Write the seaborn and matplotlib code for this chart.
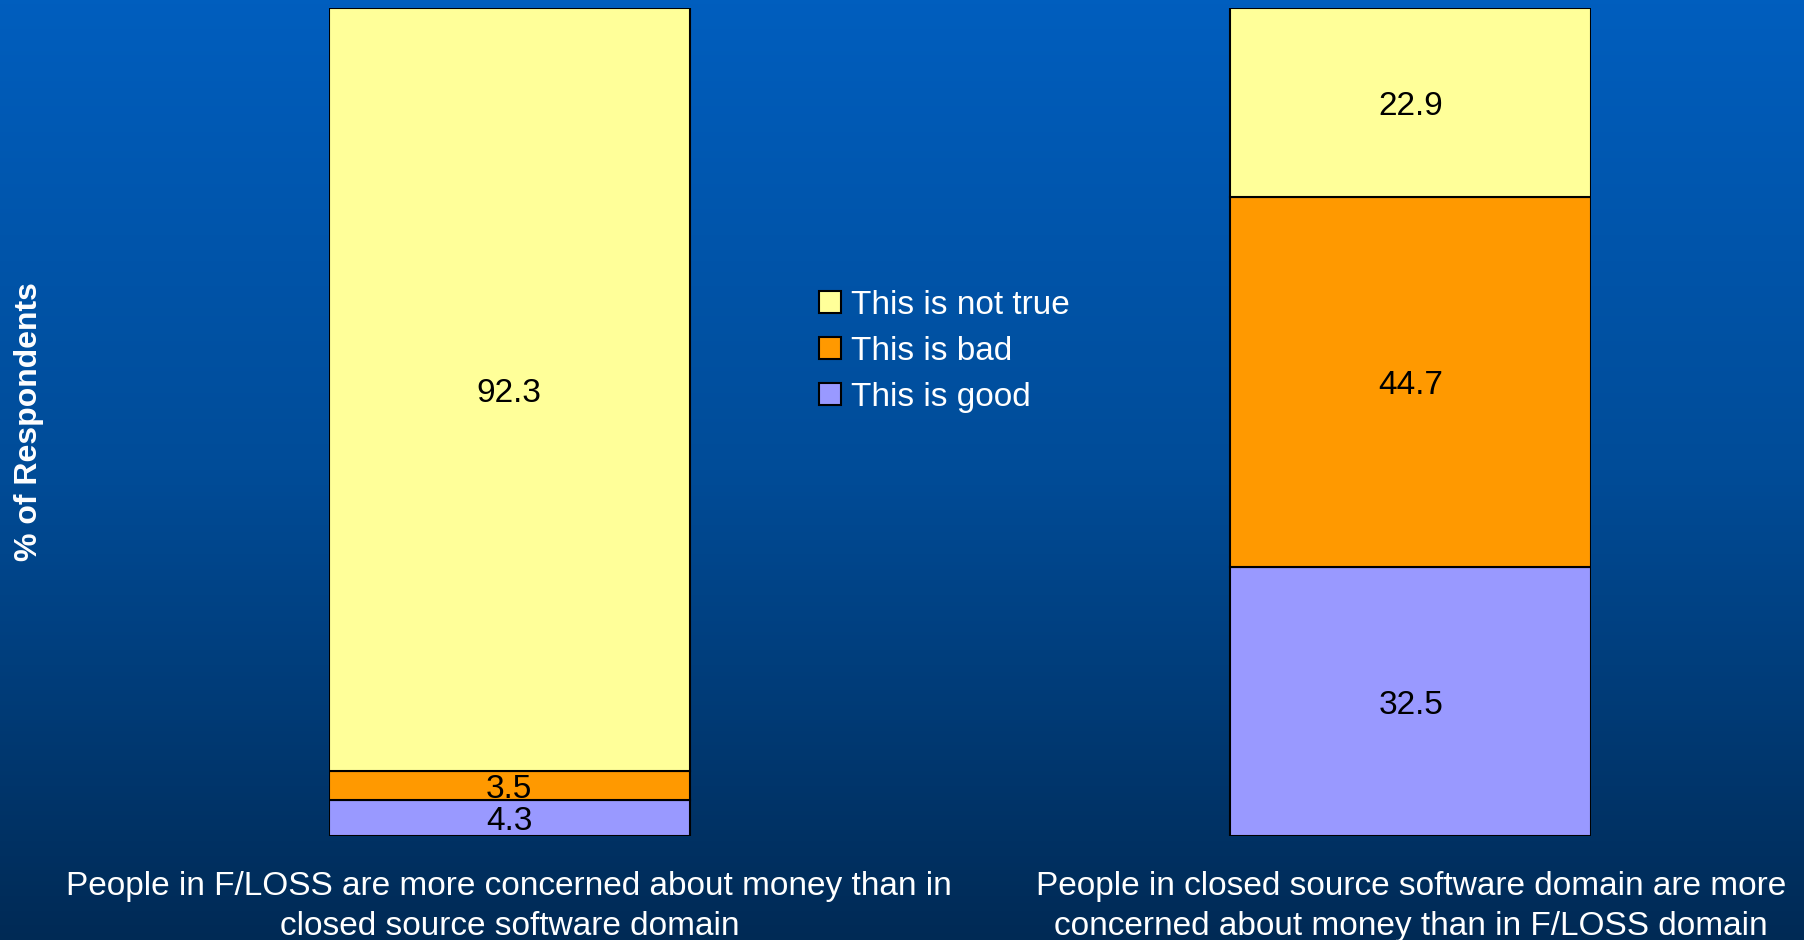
import numpy as np
import pandas as pd
import matplotlib
matplotlib.use("Agg")
import matplotlib.pyplot as plt
import seaborn as sns
from matplotlib.colors import LinearSegmentedColormap
from matplotlib.patches import Patch

# data
groups = ["People in F/LOSS are more concerned about money than in\nclosed source software domain",
          "People in closed source software domain are more\nconcerned about money than in F/LOSS domain"]
responses = ["This is good", "This is bad", "This is not true"]
good = [4.3, 32.5]
bad = [3.5, 44.7]
not_true = [92.3, 22.9]
colors = ["#9999FF", "#FF9900", "#FFFF99"]

sns.set_style("white")
plt.rcParams["font.family"] = ["Liberation Sans", "DejaVu Sans"]

fig = plt.figure(figsize=(18.04, 9.40), dpi=100)

# background gradient
bg = fig.add_axes([0, 0, 1, 1], zorder=0)
grad = np.linspace(0, 1, 256).reshape(-1, 1)
cmap = LinearSegmentedColormap.from_list("bg", ["#005EBE", "#004C98", "#002A55"])
bg.imshow(grad, aspect="auto", cmap=cmap, extent=[0, 1, 0, 1], origin="upper")
bg.axis("off")

ax = fig.add_axes([329 / 1804, 104 / 940, 1262 / 1804, 828 / 940], zorder=1)
ax.patch.set_alpha(0)

df = pd.DataFrame({"group": groups, "This is good": good,
                   "This is bad": bad, "This is not true": not_true})

# one barplot call per response, then stack the patches on the cumulative values
for resp, col in zip(responses, colors):
    sns.barplot(x=df["group"], y=df[resp], color=col, ax=ax, width=0.4,
                edgecolor="black", linewidth=1.5, saturation=1)

bottoms = np.zeros(len(groups))
patches = ax.patches
for i, resp in enumerate(responses):
    vals = df[resp].values
    for j in range(len(groups)):
        p = patches[i * len(groups) + j]
        p.set_y(bottoms[j])
        p.set_height(vals[j])
        ax.text(p.get_x() + p.get_width() / 2, bottoms[j] + vals[j] / 2,
                f"{vals[j]:.1f}", ha="center", va="center_baseline", fontsize=24, color="black")
    bottoms += vals

ax.set_xlim(-0.2, 1.2)
ax.set_ylim(0, 100.1)
ax.set_yticks([])
ax.set_xlabel("")
ax.set_ylabel("")
for s in ax.spines.values():
    s.set_visible(False)
ax.tick_params(axis="x", length=0, pad=25, labelsize=24, labelcolor="white")
for t in ax.get_xticklabels():
    t.set_linespacing(1.4)

fig.text(29 / 1804, 1 - 422 / 940, "% of Respondents", rotation=90, ha="center", va="center",
         fontsize=23, fontweight="bold", color="white")

handles = [Patch(facecolor=c, edgecolor="black", linewidth=1.5, label=r)
           for r, c in zip(responses[::-1], colors[::-1])]
fig.legend(handles=handles, loc="center left", bbox_to_anchor=(819 / 1804, 1 - 351 / 940),
           frameon=False, fontsize=24, labelcolor="white", handlelength=0.65, handleheight=0.65,
           handletextpad=0.3, labelspacing=0.45, borderpad=0, borderaxespad=0)

fig.savefig("out.png", dpi=100)
